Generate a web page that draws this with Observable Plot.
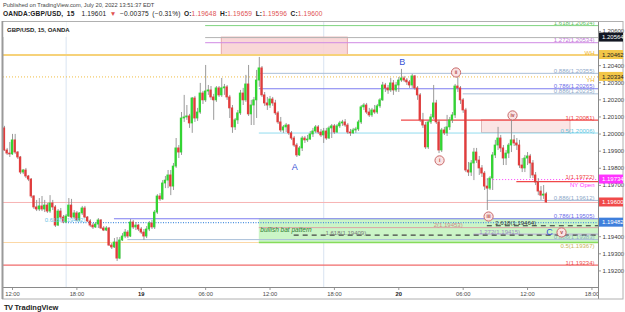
<!DOCTYPE html>
<html><head><meta charset="utf-8">
<script src="https://cdn.jsdelivr.net/npm/d3@7"></script>
<script src="https://cdn.jsdelivr.net/npm/@observablehq/plot@0.6"></script>
<style>
html,body{margin:0;padding:0;background:#fff;}
#wrap{position:relative;width:625px;height:312px;overflow:hidden;font-family:"Liberation Sans",Arial,sans-serif;}
.h1{position:absolute;left:3px;top:2px;font-size:5.7px;line-height:7px;color:#444;white-space:nowrap;}
.h2{position:absolute;left:3px;top:10px;font-size:6.6px;line-height:8px;color:#222;white-space:nowrap;word-spacing:1.5px;letter-spacing:0.15px;}
.h2 .r{color:#e05252;}
#chart{position:absolute;left:0;top:21px;}
.foot{position:absolute;left:4px;top:304px;font-size:7px;line-height:8px;color:#222;white-space:nowrap;}
.foot b{font-size:7.5px;letter-spacing:-0.6px;margin-right:2px;}
</style></head><body>
<div id="wrap">
<div class="h1">Published on TradingView.com, July 20, 2022 13:51:37 EDT</div>
<div class="h2"><b>OANDA:GBP/USD, 15</b>&nbsp; 1.19601 <span class="r">▼</span> −0.00375 (−0.31%) <b>O:</b><span class="r">1.19648</span> <b>H:</b><span class="r">1.19659</span> <b>L:</b><span class="r">1.19596</span> <b>C:</b><span class="r">1.19600</span></div>
<div id="chart"></div>
<div class="foot"><b>TV</b><b style="letter-spacing:0">TradingView</b></div>
</div>
<script>
// ---------- DATA ----------
const candleStart = "2022-07-18T11:15:00Z"; // 15-minute bars
const opens = [
1.20033,1.19904,1.19886,1.19881,1.19963,1.19892,1.19863,1.19775,1.19787,1.19752,
1.19734,1.19635,1.19571,1.19559,1.19577,1.19559,1.19582,1.19547,1.19594,1.19571,
1.19465,1.19547,1.19512,1.19483,1.19518,1.19582,1.19512,1.19536,1.19495,1.19536,
1.19565,1.19512,1.19489,1.19465,1.19454,1.19471,1.19495,1.19448,1.19436,1.19448,
1.19348,1.19337,1.19366,1.19272,1.19378,1.19401,1.19424,1.19401,1.19483,1.19454,
1.19465,1.19442,1.19424,1.19401,1.19442,1.19477,1.19454,1.19541,1.19635,1.19618,
1.19711,1.19728,1.19758,1.19693,1.19810,1.19916,1.19892,1.20091,1.20097,1.20103,
1.20062,1.20208,1.20091,1.20126,1.20237,1.20197,1.20249,1.20255,1.20214,1.20197,
1.20267,1.20226,1.20267,1.20273,1.20214,1.20150,1.20039,1.20080,1.20121,1.20237,
1.20197,1.20290,1.20115,1.20167,1.20197,1.20313,1.20384,1.20226,1.20179,1.20167,
1.20202,1.20179,1.20121,1.20068,1.20021,1.20039,1.20050,1.20004,1.19974,1.19933,
1.19875,1.19916,1.19974,1.19963,1.19968,1.19998,1.20015,1.20039,1.20009,1.19992,
1.20015,1.19974,1.20033,1.20045,1.20009,1.20045,1.20062,1.20068,1.20050,1.20009,
1.20004,1.20021,1.20027,1.20068,1.20156,1.20167,1.20126,1.20109,1.20138,1.20126,
1.20162,1.20197,1.20284,1.20267,1.20255,1.20296,1.20255,1.20284,1.20313,1.20325,
1.20313,1.20302,1.20284,1.20337,1.20267,1.20226,1.20080,1.20050,1.19922,1.20068,
1.20097,1.20179,1.20068,1.19904,1.20021,1.20004,1.20039,1.20080,1.20109,1.20278,
1.20267,1.20197,1.20138,1.19787,1.19775,1.19828,1.19892,1.19845,1.19799,1.19769,
1.19693,1.19681,1.19740,1.19875,1.19933,1.19974,1.19916,1.19857,1.19886,1.19933,
1.19963,1.19945,1.19933,1.19816,1.19799,1.19857,1.19869,1.19828,1.19758,1.19717,
1.19664,1.19640,1.19648];
const closes = [
1.19904,1.19886,1.19881,1.19963,1.19892,1.19863,1.19775,1.19787,1.19752,1.19734,
1.19635,1.19571,1.19559,1.19577,1.19559,1.19582,1.19547,1.19594,1.19571,1.19465,
1.19547,1.19512,1.19483,1.19518,1.19582,1.19512,1.19536,1.19495,1.19536,1.19565,
1.19512,1.19489,1.19465,1.19454,1.19471,1.19495,1.19448,1.19436,1.19448,1.19348,
1.19337,1.19366,1.19272,1.19378,1.19401,1.19424,1.19401,1.19483,1.19454,1.19465,
1.19442,1.19424,1.19401,1.19442,1.19477,1.19454,1.19541,1.19635,1.19618,1.19711,
1.19728,1.19758,1.19693,1.19810,1.19916,1.19892,1.20091,1.20097,1.20103,1.20062,
1.20208,1.20091,1.20126,1.20237,1.20197,1.20249,1.20255,1.20214,1.20197,1.20267,
1.20226,1.20267,1.20273,1.20214,1.20150,1.20039,1.20080,1.20121,1.20237,1.20197,
1.20290,1.20115,1.20167,1.20197,1.20313,1.20384,1.20226,1.20179,1.20167,1.20202,
1.20179,1.20121,1.20068,1.20021,1.20039,1.20050,1.20004,1.19974,1.19933,1.19875,
1.19916,1.19974,1.19963,1.19968,1.19998,1.20015,1.20039,1.20009,1.19992,1.20015,
1.19974,1.20033,1.20045,1.20009,1.20045,1.20062,1.20068,1.20050,1.20009,1.20004,
1.20021,1.20027,1.20068,1.20156,1.20167,1.20126,1.20109,1.20138,1.20126,1.20162,
1.20197,1.20284,1.20267,1.20255,1.20296,1.20255,1.20284,1.20313,1.20325,1.20313,
1.20302,1.20284,1.20337,1.20267,1.20226,1.20080,1.20050,1.19922,1.20068,1.20097,
1.20179,1.20068,1.19904,1.20021,1.20004,1.20039,1.20080,1.20109,1.20278,1.20267,
1.20197,1.20138,1.19787,1.19775,1.19828,1.19892,1.19845,1.19799,1.19769,1.19693,
1.19681,1.19740,1.19875,1.19933,1.19974,1.19916,1.19857,1.19886,1.19933,1.19963,
1.19945,1.19933,1.19816,1.19799,1.19857,1.19869,1.19828,1.19758,1.19717,1.19664,
1.19640,1.19646,1.19600];
const highs = [
1.20045,1.19916,1.19951,1.19998,1.19998,1.19898,1.19869,1.19793,1.19799,1.19758,
1.19740,1.19640,1.19612,1.19623,1.19635,1.19612,1.19594,1.19640,1.19612,1.19582,
1.19559,1.19565,1.19524,1.19530,1.19623,1.19618,1.19553,1.19547,1.19541,1.19577,
1.19577,1.19518,1.19500,1.19477,1.19483,1.19506,1.19500,1.19459,1.19459,1.19454,
1.19360,1.19389,1.19395,1.19395,1.19418,1.19442,1.19436,1.19500,1.19495,1.19483,
1.19471,1.19454,1.19442,1.19459,1.19489,1.19495,1.19553,1.19646,1.19652,1.19728,
1.19752,1.19787,1.19787,1.19828,1.19974,1.19933,1.20126,1.20226,1.20167,1.20115,
1.20214,1.20220,1.20150,1.20296,1.20249,1.20401,1.20284,1.20278,1.20232,1.20278,
1.20278,1.20325,1.20290,1.20284,1.20226,1.20167,1.20091,1.20138,1.20255,1.20267,
1.20343,1.20401,1.20197,1.20214,1.20372,1.20448,1.20395,1.20243,1.20214,1.20220,
1.20214,1.20197,1.20132,1.20097,1.20050,1.20062,1.20056,1.20015,1.19986,1.19945,
1.19927,1.19986,1.19986,1.19992,1.20015,1.20033,1.20050,1.20050,1.20027,1.20033,
1.20033,1.20045,1.20056,1.20056,1.20056,1.20074,1.20080,1.20085,1.20062,1.20027,
1.20033,1.20039,1.20080,1.20167,1.20179,1.20179,1.20150,1.20150,1.20167,1.20173,
1.20208,1.20302,1.20296,1.20284,1.20325,1.20313,1.20302,1.20331,1.20378,1.20337,
1.20325,1.20313,1.20349,1.20343,1.20278,1.20237,1.20121,1.20068,1.20080,1.20115,
1.20284,1.20197,1.20080,1.20033,1.20039,1.20109,1.20097,1.20126,1.20290,1.20331,
1.20278,1.20208,1.20150,1.19834,1.19845,1.19916,1.19916,1.19869,1.19816,1.19781,
1.19740,1.19752,1.19892,1.19963,1.20039,1.19992,1.19933,1.19904,1.19945,1.20091,
1.19992,1.19974,1.19963,1.19857,1.19875,1.19892,1.19881,1.19845,1.19775,1.19740,
1.19693,1.19699,1.19659];
const lows = [
1.19898,1.19875,1.19863,1.19875,1.19881,1.19851,1.19763,1.19763,1.19740,1.19722,
1.19623,1.19559,1.19547,1.19547,1.19547,1.19541,1.19536,1.19536,1.19553,1.19454,
1.19459,1.19500,1.19477,1.19477,1.19512,1.19506,1.19500,1.19489,1.19489,1.19524,
1.19506,1.19483,1.19454,1.19442,1.19448,1.19448,1.19442,1.19430,1.19430,1.19343,
1.19325,1.19331,1.19255,1.19266,1.19372,1.19389,1.19389,1.19395,1.19442,1.19436,
1.19430,1.19413,1.19378,1.19389,1.19430,1.19442,1.19442,1.19530,1.19606,1.19612,
1.19681,1.19681,1.19640,1.19670,1.19799,1.19857,1.19875,1.20068,1.20080,1.20033,
1.20004,1.20068,1.20074,1.20115,1.20173,1.20185,1.20226,1.20197,1.20080,1.20185,
1.20214,1.20214,1.20226,1.20197,1.20091,1.20004,1.20021,1.20056,1.20109,1.20167,
1.20185,1.20103,1.20050,1.20050,1.20091,1.20273,1.20214,1.20162,1.20138,1.20150,
1.20162,1.20109,1.20056,1.20009,1.20004,1.20009,1.19992,1.19963,1.19922,1.19863,
1.19869,1.19898,1.19945,1.19951,1.19963,1.19980,1.20004,1.19998,1.19980,1.19945,
1.19963,1.19968,1.19974,1.19998,1.20004,1.20033,1.20045,1.20039,1.19998,1.19986,
1.19998,1.20004,1.20015,1.20056,1.20138,1.20115,1.20097,1.20097,1.20115,1.20115,
1.20150,1.20191,1.20243,1.20232,1.20243,1.20226,1.20243,1.20243,1.20302,1.20302,
1.20284,1.20267,1.20267,1.20255,1.20197,1.20068,1.20033,1.19910,1.19910,1.20056,
1.20085,1.20056,1.19886,1.19892,1.19992,1.19986,1.20021,1.20062,1.20091,1.20243,
1.20173,1.20121,1.19775,1.19752,1.19752,1.19728,1.19828,1.19758,1.19746,1.19670,
1.19553,1.19670,1.19670,1.19857,1.19904,1.19892,1.19816,1.19816,1.19857,1.19892,
1.19927,1.19904,1.19799,1.19775,1.19775,1.19816,1.19740,1.19740,1.19699,1.19640,
1.19612,1.19618,1.19596];

// horizontal levels (fib / session lines)
const levelPrices = [1.20634,1.20564,1.20534,1.20462,1.20355,1.20334,1.20265,1.20235,1.20081,1.20006,1.19734,1.19722,1.19612,1.19600,1.19505,1.19482,1.19464,1.19453,1.19415,1.19409,1.19383,1.19366,1.19366,1.19234];
const levelFrom = ["2022-07-19T06:00Z","2022-07-19T06:00Z","2022-07-19T06:00Z",null,"2022-07-19T11:00Z",null,"2022-07-19T11:00Z","2022-07-20T06:00Z","2022-07-20T00:15Z","2022-07-19T11:00Z","2022-07-20T08:00Z","2022-07-20T11:00Z","2022-07-20T08:15Z",null,"2022-07-18T21:30Z","2022-07-18T16:45Z","2022-07-20T08:15Z","2022-07-19T11:00Z","2022-07-20T07:00Z","2022-07-19T14:15Z","2022-07-18T22:45Z",null,"2022-07-19T11:00Z",null];
const levelTo = [null,null,null,null,null,null,null,null,null,null,null,null,null,null,null,null,null,null,null,null,null,"2022-07-19T11:00Z",null,null];
const levelLabels = ["1.618(1.20634)","","1.272(1.20534)","WH","0.886(1.20355)","YH","0.786(1.20265)","0.886(1.20235)","1(1.20081)","0.5(1.20006)","NY Open","1(1.19722)","0.886(1.19612)","","0.786(1.19505)","","","","","","0.886(1.19383)","","0.5(1.19367)","1(1.19234)"];

// zones
const zoneFrom = ["2022-07-19T07:30Z","2022-07-20T07:45Z","2022-07-19T11:00Z"];
const zoneTo = ["2022-07-19T19:15Z","2022-07-20T16:00Z",null];
const zoneTop = [1.20564,1.20081,1.19505];
const zoneBottom = [1.20462,1.20006,1.19366];

// free text notes
const noteTexts = ["2.618(1.19464)","2(1.19453)","1.272(1.19415)","1.618(1.19409)","0.618(1.19482)","bullish bat pattern"];
const noteTimes = ["2022-07-20T09:00Z","2022-07-20T03:15Z","2022-07-20T07:30Z","2022-07-19T17:10Z","2022-07-18T15:00Z","2022-07-19T11:06Z"];
const notePrices = [1.19464,1.19453,1.19415,1.19409,1.19482,1.19442];

// wave labels
const waveTexts = ["A","B","C"];
const waveTimes = ["2022-07-19T14:18Z","2022-07-20T00:20Z","2022-07-20T14:03Z"];
const wavePrices = [1.19805,1.20419,1.19425];
const subTexts = ["i","ii","iii","iv","v"];
const subTimes = ["2022-07-20T03:48Z","2022-07-20T05:20Z","2022-07-20T08:22Z","2022-07-20T10:36Z","2022-07-20T15:10Z"];
const subPrices = [1.19846,1.20360,1.19518,1.20109,1.19425];

// price-axis highlighted labels
const tagPrices = [1.20564,1.20462,1.20334,1.19734,1.19600,1.19482];

// axis ticks
const priceTicks = [1.206,1.204,1.203,1.202,1.201,1.200,1.199,1.198,1.197,1.194,1.193,1.192];
const timeTicks = ["2022-07-18T12:00Z","2022-07-18T18:00Z","2022-07-19T00:00Z","2022-07-19T06:00Z","2022-07-19T12:00Z","2022-07-19T18:00Z","2022-07-20T00:00Z","2022-07-20T06:00Z","2022-07-20T12:00Z","2022-07-20T18:00Z"];
const timeLabels = ["12:00","18:00","19","06:00","12:00","18:00","20","06:00","12:00","18:00"];
const sessionBreaks = ["2022-07-18T17:00Z","2022-07-19T17:00Z"];

// ---------- STYLES ----------
const xStart = new Date("2022-07-18T11:09:40Z");
const xEnd = new Date("2022-07-20T18:36:40Z");
const levelStyle = [
 ["#7fd47f",1,null],["#b4b4b4",1,null],["#d08ae4",1,null],["#f6d27a",2,null],
 ["#a9bfd9",1,null],["#f0bd45",1,"1,2"],["#7c7cf0",1.2,null],["#a9bfd9",1,null],
 ["#f04848",1.3,null],["#93dcef",1,null],["#ff40ff",1,"1,2"],["#f04848",1.3,null],
 ["#a9bfd9",1,null],["#f7b3b3",1,null],["#7c7cf0",1.2,null],["#4a8fe0",1.3,"1,1.5"],
 ["#333333",1.2,"5,4"],["#dba4a4",1,null],["#bca9dc",1,null],["#444444",1.2,"5,4"],
 ["#a9bfd9",1,null],["#fcd8a6",1,null],["#86dc5a",1.6,null],["#f06b6b",1.3,null]
];
const labelColor = ["#5cc25c","","#c277d8","#eeb42a","#8ea8c8","#eeb42a","#6e6ee8","#8ea8c8","#ee3b3b","#5ec4e0","#ff33ff","#ee3b3b","#8ea8c8","","#6e6ee8","","","","","","#8ea8c8","","#c8b35a","#ee4d4d"];
const labelBelow = new Set([5,10,22]);
const labelShift = {10:2.5, 11:-2.5};
const zoneStyle = [["#f8d3d3","#e49b9b",0.9],["#fbe2e2","#d9a9a9",0.9],["#c2f3bd",null,0.85]];
const noteColor = ["#333333","#d08a8a","#9c8cc4","#7a7a7a","#6cc4e6","#2e7d32"];
const tagStyle = [["#131722","#ffffff"],["#f2c648","#222222"],["#f2c648","#222222"],["#ff33ff","#ffffff"],["#f04a4a","#ffffff"],["#3f7fdc","#ffffff"]];

// ---------- BUILD ----------
const t0 = +new Date(candleStart);
const candles = opens.map((o,i)=>({time:new Date(t0+i*9e5), o, h:highs[i], l:lows[i], c:closes[i]}));
const up = candles.filter(d=>d.c>=d.o), dn = candles.filter(d=>d.c<d.o);
const bodyX1 = d=>new Date(+d.time-39e4), bodyX2 = d=>new Date(+d.time+39e4);
const D = s => s ? new Date(s) : null;

const marks = [];
marks.push(Plot.ruleX(sessionBreaks.map(D), {stroke:"#dfe8f3", strokeWidth:1.2}));
zoneFrom.forEach((f,i)=>{
  const [fill, stroke, op] = zoneStyle[i];
  marks.push(Plot.rect([0], {x1:()=>D(f), x2:()=>zoneTo[i]?D(zoneTo[i]):xEnd, y1:()=>zoneTop[i], y2:()=>zoneBottom[i],
    fill, fillOpacity:op, stroke: stroke||"none", strokeWidth:0.8}));
});
levelPrices.forEach((p,i)=>{
  const [stroke,w,dash] = levelStyle[i];
  marks.push(Plot.ruleY([p], {x1:()=>levelFrom[i]?D(levelFrom[i]):xStart, x2:()=>levelTo[i]?D(levelTo[i]):xEnd,
    stroke, strokeWidth:w, strokeDasharray: dash||undefined}));
});
marks.push(Plot.ruleX(candles, {x:"time", y1:"l", y2:"h", stroke:"#8f8f8f", strokeWidth:0.9}));
marks.push(Plot.rect(up, {x1:bodyX1, x2:bodyX2, y1:"o", y2:"c", fill:"#33d433", insetTop:-0.4, insetBottom:-0.4}));
marks.push(Plot.rect(dn, {x1:bodyX1, x2:bodyX2, y1:"o", y2:"c", fill:"#e23c3c", insetTop:-0.4, insetBottom:-0.4}));
levelLabels.forEach((lab,i)=>{
  if(!lab) return;
  const below = labelBelow.has(i);
  marks.push(Plot.text([lab], {x:()=>xEnd, y:()=>levelPrices[i], text:d=>d, textAnchor:"end",
    lineAnchor: below?"top":"bottom", dx:-4, dy: (below?1:-0.5) + (labelShift[i]||0), fill:labelColor[i], fontSize:6}));
});
noteTexts.forEach((t,i)=>{
  const bat = i===5;
  marks.push(Plot.text([t], {x:()=>D(noteTimes[i]), y:()=>notePrices[i], text:d=>d, textAnchor:"start",
    lineAnchor: bat?"middle":"bottom", dy: bat?0:-0.5, fill:noteColor[i], fontSize: bat?6.5:6, fontStyle: bat?"italic":"normal"}));
});
const waves = waveTexts.map((t,i)=>({t, time:D(waveTimes[i]), p:wavePrices[i]}));
marks.push(Plot.text(waves, {x:"time", y:"p", text:"t", fill:"#3552d6", fontSize:9}));
const subs = subTexts.map((t,i)=>({t, time:D(subTimes[i]), p:subPrices[i]}));
marks.push(Plot.dot(subs, {x:"time", y:"p", r:4.6, fill:"#fae3e3", stroke:"#c96a6a", strokeWidth:1}));
marks.push(Plot.text(subs, {x:"time", y:"p", text:"t", fill:"#b04848", fontSize:5, fontWeight:"bold"}));
marks.push(Plot.axisY(priceTicks, {anchor:"right", tickSize:2, tickPadding:2, tickFormat:d=>d.toFixed(5), fontSize:6, fill:"#3a3a3a", stroke:"#999", label:null}));
const tlMap = new Map(timeTicks.map((s,i)=>[+new Date(s), timeLabels[i]]));
marks.push(Plot.axisX(timeTicks.map(D), {anchor:"bottom", tickSize:3, tickPadding:1, tickFormat:d=>tlMap.get(+d), fontSize:5.8, fill:"#4a4a4a", stroke:"#999", label:null}));

const chart = Plot.plot({
  width:625, height:279,
  marginLeft:3, marginRight:27, marginTop:0, marginBottom:13,
  x:{type:"utc", domain:[xStart,xEnd]},
  y:{domain:[1.19103,1.20658]},
  style:{fontFamily:"Liberation Sans, Arial, sans-serif", background:"transparent", overflow:"visible"},
  marks
});
document.getElementById("chart").appendChild(chart);

// ---------- DECORATION (frame, price tags, symbol box) ----------
const svg = d3.select(chart);
const ysc = chart.scale("y");
const yf = ysc.apply ? (v=>ysc.apply(v)) : d3.scaleLinear(ysc.domain, ysc.range);
svg.selectAll("text").filter(function(){ const t=d3.select(this).text(); return t==="19"||t==="20"; })
  .attr("font-weight","bold").attr("fill","#222");
svg.append("rect").attr("x",598.5).attr("y",266.5).attr("width",24).attr("height",11).attr("fill","#fff");
svg.append("line").attr("x1",3).attr("x2",598.5).attr("y1",266.5).attr("y2",266.5).attr("stroke","#8a8a8a");
svg.append("line").attr("x1",598.5).attr("x2",598.5).attr("y1",0).attr("y2",278).attr("stroke","#8a8a8a");
svg.append("rect").attr("x",2.5).attr("y",0.5).attr("width",620.5).attr("height",277.5).attr("fill","none").attr("stroke","#b0b0b0");
svg.append("line").attr("x1",2.5).attr("x2",2.5).attr("y1",0).attr("y2",278).attr("stroke","#9a9a9a").attr("stroke-width",2);
tagPrices.forEach((p,i)=>{
  const y = yf(p);
  svg.append("rect").attr("x",599).attr("y",y-4.5).attr("width",24).attr("height",9).attr("fill",tagStyle[i][0]);
  svg.append("text").attr("x",602).attr("y",y).attr("dy","0.35em").attr("font-size",6).attr("text-anchor","start")
    .attr("fill",tagStyle[i][1]).attr("font-family","Liberation Sans, Arial, sans-serif").text(p.toFixed(5));
});
svg.append("rect").attr("x",3.5).attr("y",1).attr("width",63).attr("height",15).attr("fill","#fff");
svg.append("text").attr("x",7).attr("y",8.5).attr("dy","0.35em").attr("font-size",6).attr("font-weight","bold").attr("text-anchor","start")
  .attr("fill","#222").attr("font-family","Liberation Sans, Arial, sans-serif").text("GBP/USD, 15, OANDA");
</script>
</body></html>
